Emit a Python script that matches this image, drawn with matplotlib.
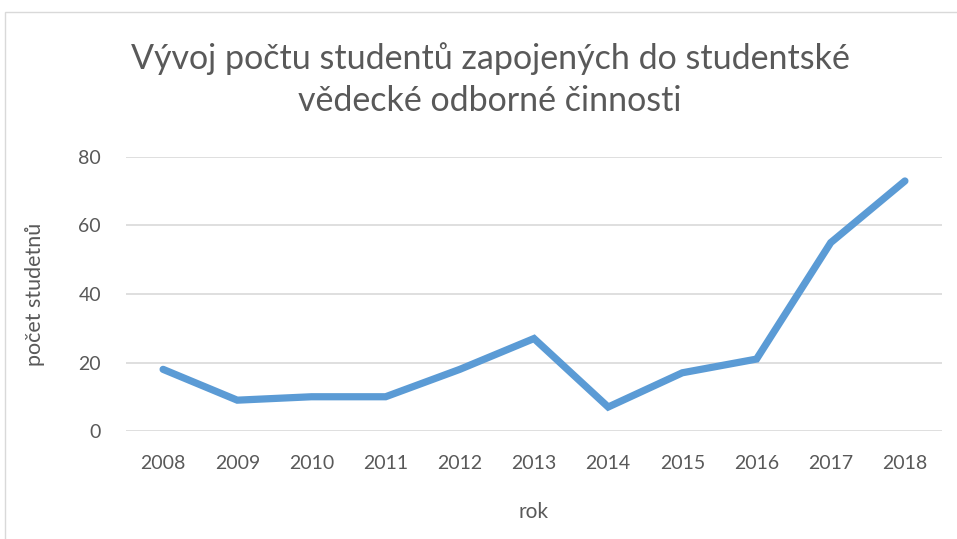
import matplotlib
matplotlib.use("Agg")
import matplotlib.pyplot as plt
from matplotlib.patches import Rectangle

years = ["2008", "2009", "2010", "2011", "2012", "2013", "2014", "2015", "2016", "2017", "2018"]
students = [18, 9, 10, 10, 18, 27, 7, 17, 21, 55, 73]
yticks = [0, 20, 40, 60, 80]

plt.rcParams['font.family'] = ['Lato', 'DejaVu Sans']
txt = '#595959'
W, H = 957, 539
fig = plt.figure(figsize=(W / 100, H / 100), dpi=100)

fig.patches.append(Rectangle((5 / W, -0.1), 1.2, 1 - 12 / H + 0.1, transform=fig.transFigure,
                             fill=False, edgecolor='#D9D9D9', linewidth=1.0))

ax = fig.add_axes([126 / W, 1 - 431 / H, (942 - 126) / W, (431 - 157) / H])
x = list(range(len(years)))
ax.plot(x, students, color='#5B9BD5', linewidth=5.2, solid_capstyle='round', solid_joinstyle='miter', zorder=3)
ax.set_xlim(-0.5, len(years) - 0.5)
ax.set_ylim(0, 80)
ax.set_yticks(yticks)
ax.set_yticklabels([str(v) for v in yticks])
ax.set_xticks(x)
ax.set_xticklabels(years)
ax.grid(axis='y', color='#D9D9D9', linewidth=1.2)
ax.set_axisbelow(True)
for s in ax.spines.values():
    s.set_visible(False)
ax.tick_params(axis='both', length=0, colors=txt, labelsize=14)
ax.tick_params(axis='y', pad=18)
ax.tick_params(axis='x', pad=17)
ax.set_xlabel('rok', color=txt, fontsize=15, labelpad=22)
ax.set_ylabel('počet studetnů', color=txt, fontsize=15.5, labelpad=24)

fig.text(490 / W, 1 - 59 / H, 'Vývoj počtu studentů zapojených do studentské', ha='center', va='center',
         fontsize=24.5, color=txt)
fig.text(490 / W, 1 - 101 / H, 'vědecké odborné činnosti', ha='center', va='center',
         fontsize=24.5, color=txt)

fig.savefig('out.png', dpi=100, facecolor='white')
